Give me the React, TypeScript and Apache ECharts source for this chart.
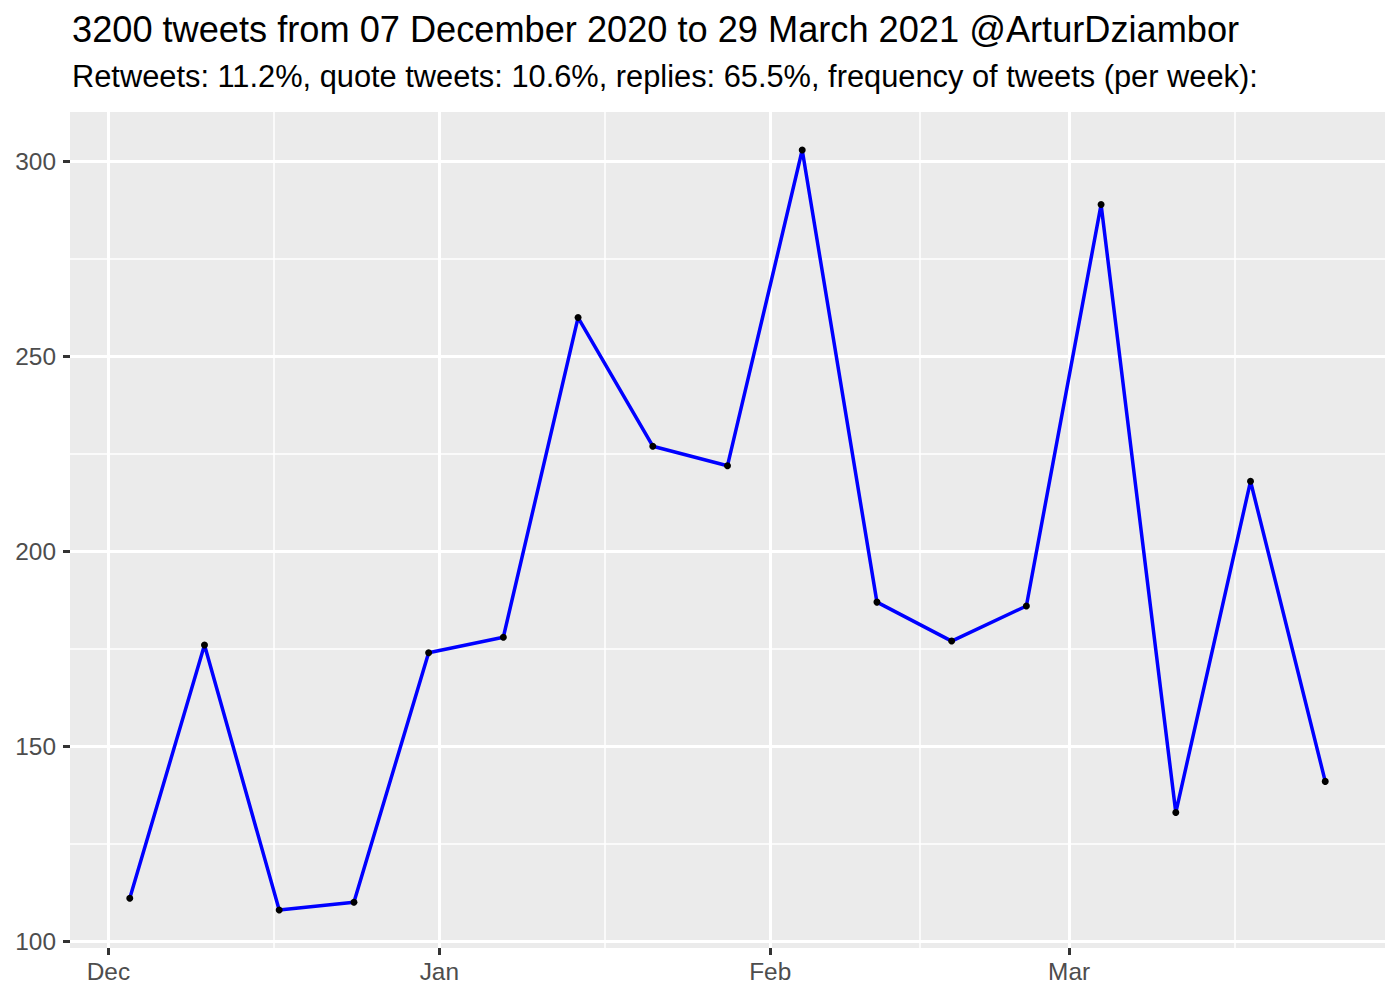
import React, { useEffect, useRef } from "react";
import * as echarts from "echarts";

const weekDates = [
  "2020-12-03", "2020-12-10", "2020-12-17", "2020-12-24", "2020-12-31",
  "2021-01-07", "2021-01-14", "2021-01-21", "2021-01-28", "2021-02-04",
  "2021-02-11", "2021-02-18", "2021-02-25", "2021-03-04", "2021-03-11",
  "2021-03-18", "2021-03-25",
];
const tweetsPerWeek = [111, 176, 108, 110, 174, 178, 260, 227, 222, 303, 187, 177, 186, 289, 133, 218, 141];

const monthBreaks = ["2020-12-01", "2021-01-01", "2021-02-01", "2021-03-01"];
const monthLabels = ["Dec", "Jan", "Feb", "Mar"];
const minorMonthBreaks = ["2020-12-16T12:00:00", "2021-01-16T12:00:00", "2021-02-15T00:00:00", "2021-03-16T12:00:00"];
const yBreaks = [100, 150, 200, 250, 300];
const yMinorBreaks = [125, 175, 225, 275];

const titleText = "3200 tweets from 07 December 2020 to 29 March 2021 @ArturDziambor";
const subtitleText = "Retweets: 11.2%, quote tweets: 10.6%, replies: 65.5%, frequency of tweets (per week):";

const toTs = (s: string) => Date.parse(s.length === 10 ? s + "T00:00:00Z" : s + "Z");

const FONT = "'Liberation Sans', Arial, Helvetica, sans-serif";

export default function App() {
  const ref = useRef<HTMLDivElement>(null);

  useEffect(() => {
    if (!ref.current) return;
    const chart = echarts.init(ref.current, undefined, { renderer: "svg" });

    const xs = weekDates.map(toTs);
    const xRange = xs[xs.length - 1] - xs[0];
    const xMin = xs[0] - 0.05 * xRange;
    const xMax = xs[xs.length - 1] + 0.05 * xRange;
    const yLo = Math.min(...tweetsPerWeek);
    const yHi = Math.max(...tweetsPerWeek);
    const yMin = yLo - 0.05 * (yHi - yLo);
    const yMax = yHi + 0.05 * (yHi - yLo);

    const majorX = monthBreaks.map(toTs);
    const minorX = minorMonthBreaks.map(toTs);

    const option: any = {
      animation: false,
      backgroundColor: "#FFFFFF",
      textStyle: { fontFamily: FONT },
      grid: {
        left: 70,
        right: 15,
        top: 112,
        bottom: 52,
        show: true,
        backgroundColor: "#EBEBEB",
        borderWidth: 0,
        containLabel: false,
      },
      graphic: [
        {
          type: "text",
          x: 72,
          y: 29.5,
          style: {
            text: titleText,
            fontSize: 36.2,
            fontFamily: FONT,
            fill: "#000000",
            verticalAlign: "middle",
            align: "left",
          },
        },
        {
          type: "text",
          x: 72,
          y: 76.5,
          style: {
            text: subtitleText,
            fontSize: 30.8,
            fontFamily: FONT,
            fill: "#000000",
            verticalAlign: "middle",
            align: "left",
          },
        },
      ],
      xAxis: [
        {
          type: "value",
          min: xMin,
          max: xMax,
          position: "bottom",
          axisLine: { show: false },
          axisTick: {
            show: true,
            customValues: majorX,
            length: 7,
            lineStyle: { color: "#333333", width: 3 },
          },
          axisLabel: {
            show: true,
            customValues: majorX,
            formatter: (v: number) => {
              const i = majorX.indexOf(v);
              return i >= 0 ? monthLabels[i] : "";
            },
            color: "#4D4D4D",
            fontSize: 24.4,
            fontFamily: FONT,
            margin: 11,
          },
          splitLine: { show: true, lineStyle: { color: "#FFFFFF", width: 3 } },
        },
        {
          type: "value",
          min: xMin,
          max: xMax,
          position: "bottom",
          axisLine: { show: false },
          axisTick: { show: false, customValues: minorX },
          axisLabel: { show: false, customValues: minorX },
          splitLine: { show: true, lineStyle: { color: "#FFFFFF", width: 1.5 } },
        },
      ],
      yAxis: [
        {
          type: "value",
          min: yMin,
          max: yMax,
          position: "left",
          axisLine: { show: false },
          axisTick: {
            show: true,
            customValues: yBreaks,
            length: 7,
            lineStyle: { color: "#333333", width: 3 },
          },
          axisLabel: {
            show: true,
            customValues: yBreaks,
            formatter: (v: number) => String(v),
            color: "#4D4D4D",
            fontSize: 24.4,
            fontFamily: FONT,
            margin: 14,
          },
          splitLine: { show: true, lineStyle: { color: "#FFFFFF", width: 3 } },
        },
        {
          type: "value",
          min: yMin,
          max: yMax,
          position: "left",
          axisLine: { show: false },
          axisTick: { show: false, customValues: yMinorBreaks },
          axisLabel: { show: false, customValues: yMinorBreaks },
          splitLine: { show: true, lineStyle: { color: "#FFFFFF", width: 1.5 } },
        },
      ],
      series: [
        {
          type: "line",
          xAxisIndex: 0,
          yAxisIndex: 0,
          data: xs.map((x, i) => [x, tweetsPerWeek[i]]),
          lineStyle: { color: "#0000FF", width: 3.5 },
          symbol: "circle",
          symbolSize: 7,
          showSymbol: true,
          itemStyle: { color: "#000000" },
          z: 3,
        },
      ],
    };

    chart.setOption(option);
    return () => chart.dispose();
  }, []);

  return (
    <div
      ref={ref}
      style={{ position: "absolute", left: 0, top: 0, width: 1400, height: 1000, background: "#FFFFFF" }}
    />
  );
}
